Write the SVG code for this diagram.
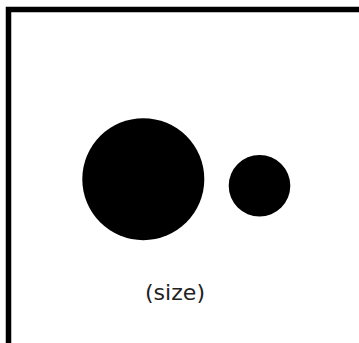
<svg xmlns="http://www.w3.org/2000/svg" width="359" height="343" viewBox="0 0 359 343">
<style>
.frame{fill:#fff;stroke:#000;stroke-width:5.5}
.dot{fill:#000}
.lbl{font-family:"DejaVu Sans","Liberation Sans",sans-serif;font-size:21px;fill:#222}
</style>
<rect width="359" height="343" fill="#fff"/>
<g id="frame"><rect class="frame" x="8.5" y="9.5" width="353.5" height="345"/></g>
<g id="big"><circle class="dot" cx="143.3" cy="179.2" r="61"/></g>
<g id="small"><circle class="dot" cx="259.5" cy="185.7" r="30.8"/></g>
<g id="label"><text class="lbl" x="175" y="300" text-anchor="middle" textLength="60" lengthAdjust="spacingAndGlyphs">(size)</text></g>
<g id="connectors"></g>
</svg>
